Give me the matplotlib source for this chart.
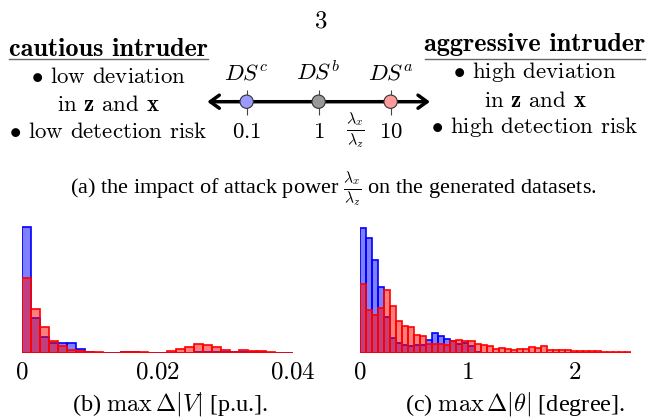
import matplotlib
matplotlib.use("Agg")
import matplotlib.pyplot as plt
import numpy as np

plt.rcParams["mathtext.fontset"] = "cm"

W, H = 647, 419

# --- data -----------------------------------------------------------------
# attack-power ratio lambda_x / lambda_z of the three datasets
DS_VALUES = [0.1, 1, 10]
DS_LABELS = [r"$DS^c$", r"$DS^b$", r"$DS^a$"]
DS_TICKS = [r"$0.1$", r"$1$", r"$10$"]
DS_COLORS = ["#9b9bff", "#999999", "#ff9b9b"]

# histogram (b): max delta |V| [p.u.], 30 bins over 0..0.04
V_EDGES = np.linspace(0, 0.04, 31)
V_BLUE = [126, 35, 16.5, 9.7, 9.7, 10.3, 4.3, 0.7, 0.5, 0.3,
          0.3, 1.0, 1.0, 0.3, 0.3, 0.3, 0.5, 0.5, 0.5, 1.0,
          1.0, 1.0, 1.0, 1.0, 1.0, 1.0, 0.7, 0.3, 0.3, 0.2]
V_RED = [75, 44, 26, 11.7, 7.3, 3.0, 2.0, 1.0, 0.7, 0.5,
         0.5, 1.5, 1.3, 0.8, 0.5, 0.5, 1.7, 3.7, 6.5, 9.0,
         8.0, 6.0, 3.5, 1.5, 2.8, 2.2, 1.7, 0.7, 0.5, 0.4]
V_TICKS = [0, 0.02, 0.04]
V_TICKLABELS = [r"$0$", r"$0.02$", r"$0.04$"]

# histogram (c): max delta |theta| [degree], 45 bins over 0..2.53
T_EDGES = np.linspace(0, 2.53, 46)
T_BLUE = [125.3, 115.3, 93.3, 65.7, 36, 15.3, 10.3, 8, 6.7, 7.7,
          8, 12.7, 19.7, 17.3, 14, 12.3, 9.3, 9.7, 7.3, 1.0,
          0, 0, 0, 0, 0, 0, 0, 0, 0, 0,
          0, 0, 0, 0, 0, 0, 0, 0, 0, 0,
          0, 0, 0, 0, 0]
T_RED = [69.3, 43.3, 38.3, 45, 63.3, 47.3, 31.7, 27.3, 26, 18.3,
         17.3, 9.3, 9.3, 8.7, 8.3, 11.7, 12.7, 12.3, 11.7, 9,
         8, 6.7, 3.7, 4.7, 3.7, 3, 3.7, 3.7, 5.7, 4.7,
         6.7, 3.3, 2.7, 2.7, 2.7, 2.3, 2, 2, 1.7, 1.7,
         1, 1, 0.7, 0.7, 0.7]
T_TICKS = [0, 1, 2]
T_TICKLABELS = [r"$0$", r"$1$", r"$2$"]

LEFT_LINES = [r"$\bullet$ low deviation",
              r"in $\mathbf{z}$ and $\mathbf{x}$",
              r"$\bullet$ low detection risk"]
RIGHT_LINES = [r"$\bullet$ high deviation",
               r"in $\mathbf{z}$ and $\mathbf{x}$",
               r"$\bullet$ high detection risk"]

CAP_A = r"(a) the impact of attack power $\frac{\lambda_x}{\lambda_z}$ on the generated datasets."
CAP_B = r"(b) $\max\,\Delta|V|$ [p.u.]."
CAP_C = r"(c) $\max\,\Delta|\theta|$ [degree]."


def px_rect(x0, y_top, x1, y_bot):
    """pixel box (top-left origin) -> figure fraction rect"""
    return [x0 / W, 1 - y_bot / H, (x1 - x0) / W, (y_bot - y_top) / H]


fig = plt.figure(figsize=(W / 100, H / 100), dpi=100)

# overlay for free text, in pixel coordinates
ax_t = fig.add_axes([0, 0, 1, 1])
ax_t.set_xlim(0, W)
ax_t.set_ylim(H, 0)
ax_t.axis("off")

CM, CMB, SERIF = "cmr10", "cmb10", "Liberation Serif"
FS = 16.5
FS_HEAD = 18.9

ax_t.text(321, 27, "3", family=CM, fontsize=18, ha="center", va="baseline")

ax_t.text(108.5, 56, "cautious intruder", family=CMB, fontsize=FS_HEAD, ha="center", va="baseline")
ax_t.plot([9, 208], [59.3, 59.3], color="#666666", lw=1.0)
for txt, yb in zip(LEFT_LINES, [83.3, 110.7, 138.3]):
    ax_t.text(108.5, yb, txt, family=CM, fontsize=FS, ha="center", va="baseline")

ax_t.text(534.5, 50.7, "aggressive intruder", family=CMB, fontsize=FS_HEAD, ha="center", va="baseline")
ax_t.plot([425, 645], [59.3, 59.3], color="#666666", lw=1.0)
for txt, yb in zip(RIGHT_LINES, [78.3, 106.7, 133.3]):
    ax_t.text(535, yb, txt, family=CM, fontsize=FS, ha="center", va="baseline")

ax_t.text(333, 193, CAP_A, family=SERIF, fontsize=16, ha="center", va="baseline")
ax_t.text(170, 410, CAP_B, family=SERIF, fontsize=17.5, ha="center", va="baseline")
ax_t.text(515, 410, CAP_C, family=SERIF, fontsize=17.5, ha="center", va="baseline")

# --- number line (log scale) ---------------------------------------------
nl = fig.add_axes(px_rect(207.3, 91.7, 430, 101.7))
nl.set_xscale("log")
nl.set_xlim(0.0284, 35.2)
nl.set_ylim(0, 1)
for s in nl.spines.values():
    s.set_visible(False)
nl.set_yticks([])
nl.set_xticks(DS_VALUES)
nl.set_xticklabels(DS_TICKS)
nl.xaxis.set_minor_locator(matplotlib.ticker.NullLocator())
nl.tick_params(axis="x", direction="inout", length=18, width=0.8, color="#444444",
               pad=4.0, labelsize=FS)
nl.patch.set_visible(False)
nl.annotate("", xy=(0, 0), xytext=(1, 0), xycoords="axes fraction",
            arrowprops=dict(arrowstyle="<->,head_length=0.65,head_width=0.47",
                            lw=2.5, color="black", shrinkA=0, shrinkB=0),
            annotation_clip=False, zorder=3)
nl.scatter(DS_VALUES, [0] * len(DS_VALUES), s=92, c=DS_COLORS, edgecolors="#333333",
           linewidths=0.8, zorder=5, clip_on=False)
for v, lab in zip(DS_VALUES, DS_LABELS):
    nl.annotate(lab, xy=(v, 0), xytext=(0, 20.7), textcoords="offset points",
                ha="center", va="center", fontsize=FS, annotation_clip=False)
nl.annotate(r"$\frac{\lambda_x}{\lambda_z}$", xy=(3.2, 0), xytext=(0, -21.0),
            textcoords="offset points", ha="center", va="center", fontsize=FS,
            annotation_clip=False)


# --- histograms ------------------------------------------------------------
def draw_hist(ax, edges, blue, red, ticks, ticklabels):
    widths = np.diff(edges)
    ax.bar(edges[:-1], blue, width=widths, align="edge",
           facecolor=(0, 0, 1, 0.5), edgecolor=(0, 0, 1, 1), linewidth=1.2)
    ax.bar(edges[:-1], red, width=widths, align="edge",
           facecolor=(1, 0, 0, 0.5), edgecolor=(1, 0, 0, 1), linewidth=1.2)
    ax.set_xlim(edges[0], edges[-1])
    ax.set_ylim(0, 130)
    for s in ax.spines.values():
        s.set_visible(False)
    ax.set_yticks([])
    ax.set_xticks(ticks)
    ax.set_xticklabels(ticklabels)
    ax.tick_params(axis="x", length=0, pad=4.8, labelsize=18)
    ax.patch.set_visible(False)


ax_v = fig.add_axes(px_rect(22, 223, 293, 353))
draw_hist(ax_v, V_EDGES, V_BLUE, V_RED, V_TICKS, V_TICKLABELS)

ax_th = fig.add_axes(px_rect(360, 223, 631.2, 353))
draw_hist(ax_th, T_EDGES, T_BLUE, T_RED, T_TICKS, T_TICKLABELS)

fig.savefig("out.png", dpi=100)
